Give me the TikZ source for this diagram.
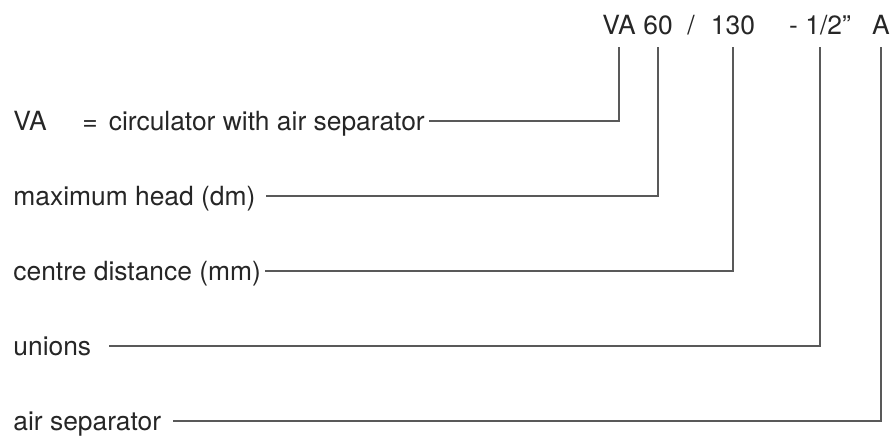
\documentclass[tikz,border=0pt]{standalone}
\usepackage{fontspec}
\setmainfont{TeX Gyre Heros}
\usepackage{tikz}
\usetikzlibrary{positioning}
\tikzset{
    x=0.5pt,
    y=-0.5pt,
    code/.style = {
        anchor=base,
        text depth=0pt,
        inner xsep=0pt,
        inner ysep=6pt,
        text=black!85
    },
    legend/.style = {
        anchor=west,
        text height=9.2pt,
        text depth=0pt,
        inner xsep=2pt,
        text=black!85
    },
    link/.style = {
        draw,
        color=black!65,
        line width=0.6pt
    },
}

\begin{document}
\begin{tikzpicture}[font=\fontsize{13.2pt}{16pt}\selectfont]
                \useasboundingbox (0,0) rectangle (895,437);

                \node[code] (va) at (619,35) {VA};
                \node[code] (hd) at (658,35) {60};
                \node[code] (slash) at (691,35) {/};
                \node[code] (cd) at (733,35) {130};
                \node[code] (un) at (820,35) {- 1/2”};
                \node[code] (sep) at (881,35) {A};

                \node[legend] (circ) at (9,121) {\makebox[34.5pt][l]{VA}=\hspace{5.5pt}circulator with air separator};
                \node[legend] (head) at (9,196) {maximum head (dm)};
                \node[legend] (dist) at (9,271) {centre distance (mm)};
                \node[legend] (union) at (9,346) {unions};
                \node[legend] (aircap) at (9,421) {air separator};

                \path[link] (va.south) |- (circ.east);
                \path[link, shorten >=3pt] (hd.south) |- (head.east);
                \path[link] (cd.south) |- (dist.east);
                \path[link, shorten >=6.5pt] (un.south) |- (union.east);
                \path[link, shorten >=3.5pt] (sep.south) |- (aircap.east);
\end{tikzpicture}
\end{document}
